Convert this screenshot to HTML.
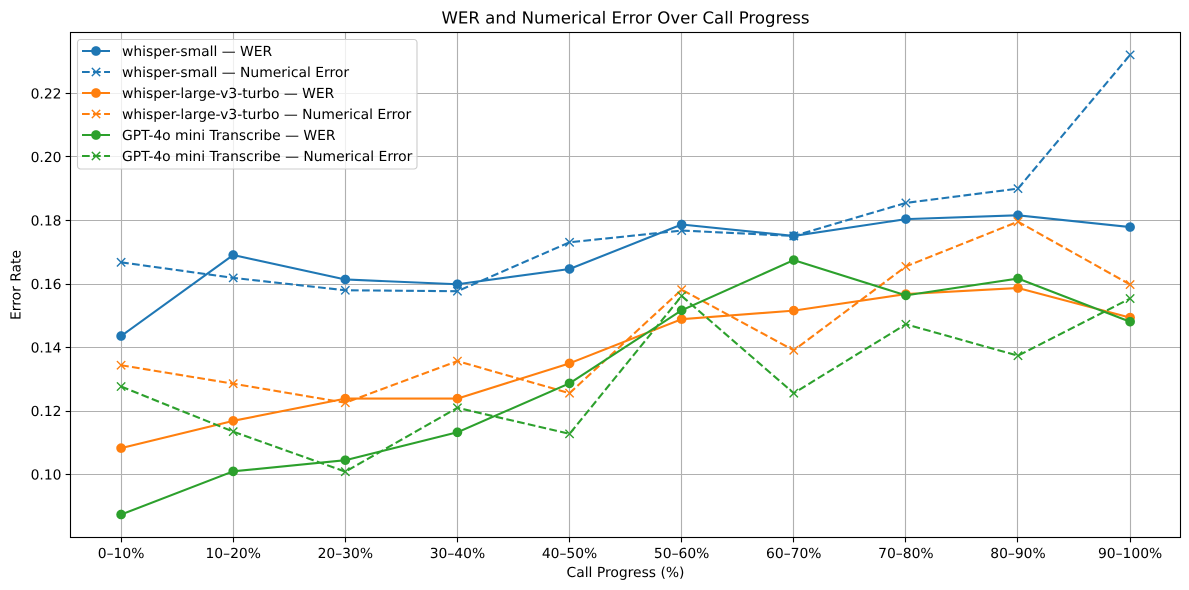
<!DOCTYPE html>
<html lang="en">
<head>
<meta charset="utf-8">
<title>WER and Numerical Error Over Call Progress</title>
<style>
html,body{margin:0;padding:0;background:#fff;}
svg{display:block;}
text{font-family:"DejaVu Sans","Liberation Sans",sans-serif;fill:#000;text-rendering:geometricPrecision;}
</style>
</head>
<body>
<svg id="chart" xmlns="http://www.w3.org/2000/svg" width="1189" height="590" viewBox="0 0 1189 590">
  <rect x="0" y="0" width="1189" height="590" fill="#fff"/>
  <g id="grid"></g>
  <g id="series"></g>
  <g id="axes"></g>
  <g id="legend"></g>
  <text x="625.5" y="23.5" font-size="16.6" text-anchor="middle">WER and Numerical Error Over Call Progress</text>
  <text x="625.5" y="577" font-size="13.89" text-anchor="middle">Call Progress (%)</text>
  <text x="0" y="0" font-size="13.89" text-anchor="middle" transform="translate(20.5 285) rotate(-90)">Error Rate</text>
</svg>
<script>
const categories = ["0–10%","10–20%","20–30%","30–40%","40–50%","50–60%","60–70%","70–80%","80–90%","90–100%"];
const yTicks = [0.10,0.12,0.14,0.16,0.18,0.20,0.22];
const smallWer = [0.1435,0.1690,0.1613,0.1598,0.1646,0.1786,0.1750,0.1803,0.1815,0.1778];
const smallNum = [0.1667,0.1618,0.1579,0.1576,0.1730,0.1767,0.1750,0.1854,0.1899,0.2320];
const turboWer = [0.1082,0.1168,0.1238,0.1238,0.1349,0.1488,0.1515,0.1567,0.1586,0.1493];
const turboNum = [0.1343,0.1285,0.1225,0.1356,0.1255,0.1581,0.1390,0.1654,0.1795,0.1597];
const gptWer = [0.0873,0.1009,0.1044,0.1132,0.1286,0.1516,0.1674,0.1563,0.1616,0.1480];
const gptNum = [0.1276,0.1134,0.1008,0.1209,0.1127,0.1561,0.1255,0.1472,0.1373,0.1553];
const seriesNames = ["whisper-small — WER","whisper-small — Numerical Error","whisper-large-v3-turbo — WER","whisper-large-v3-turbo — Numerical Error","GPT-4o mini Transcribe — WER","GPT-4o mini Transcribe — Numerical Error"];
const seriesValues = [smallWer,smallNum,turboWer,turboNum,gptWer,gptNum];

const NS = "http://www.w3.org/2000/svg";
const L = 70.5, R = 1180.5, T = 32.5, B = 537.5;
const colors = ["#1f77b4","#1f77b4","#ff7f0e","#ff7f0e","#2ca02c","#2ca02c"];
function xScale(i){ return 121.1 + i * (1009 / 9); }
function yScale(v){ return 474.2 - (v - 0.10) * (381.2 / 0.12); }
function snap(p){ return Math.floor(p) + 0.5; }
function mk(tag, attrs, parent){
  const e = document.createElementNS(NS, tag);
  for (const k in attrs) e.setAttribute(k, attrs[k]);
  parent.appendChild(e);
  return e;
}
function slug(s){ return s.toLowerCase().replace(/[^a-z0-9]+/g, '-'); }
function drawMarker(parent, kind, x, y, color){
  let m;
  if (kind === 'o') {
    m = mk('circle', {cx:x, cy:y, r:4.17, fill:color, stroke:color, 'stroke-width':1.39}, parent);
  } else {
    const h = 4.17;
    m = mk('path', {d:`M${x-h} ${y-h}L${x+h} ${y+h}M${x-h} ${y+h}L${x+h} ${y-h}`, fill:'none', stroke:color, 'stroke-width':1.39}, parent);
  }
  return m;
}

const gridG = document.getElementById('grid');
const seriesG = document.getElementById('series');
const axesG = document.getElementById('axes');
const legendG = document.getElementById('legend');

categories.forEach((c, i) => {
  const x = xScale(i);
  const sx = snap(x);
  const g = mk('line', {x1:sx, x2:sx, y1:T, y2:B, stroke:'#b0b0b0', 'stroke-width':1.11}, gridG);
  
  
  const t = mk('line', {x1:sx, x2:sx, y1:B, y2:B + 4.86, stroke:'#000', 'stroke-width':1.11}, axesG);
  
  
  const l = mk('text', {x:x, y:B + 20.5, 'font-size':13.89, 'text-anchor':'middle'}, axesG);
  
  
  l.textContent = c;
});
yTicks.forEach(v => {
  const y = yScale(v);
  const sy = snap(y + 0.4);
  const g = mk('line', {x1:L, x2:R, y1:sy, y2:sy, stroke:'#b0b0b0', 'stroke-width':1.11}, gridG);
  
  
  const t = mk('line', {x1:L - 4.86, x2:L, y1:sy, y2:sy, stroke:'#000', 'stroke-width':1.11}, axesG);
  
  
  const l = mk('text', {x:L - 9, y:y + 5.4, 'font-size':13.89, 'text-anchor':'end'}, axesG);
  
  
  l.textContent = v.toFixed(2);
});
const frame = mk('rect', {x:L, y:T, width:R - L, height:B - T, fill:'none', stroke:'#000', 'stroke-width':1.11}, axesG);



seriesValues.forEach((vals, s) => {
  const dashed = s % 2 === 1;
  const g = mk('g', {}, seriesG);
  
  
  const pts = vals.map((v, i) => xScale(i).toFixed(2) + ',' + yScale(v).toFixed(2)).join(' ');
  const line = mk('polyline', {points:pts, fill:'none', stroke:colors[s], 'stroke-width':2.08, 'stroke-linejoin':'round'}, g);
  
  
  if (dashed) line.setAttribute('stroke-dasharray', '7.7 3.33');
  vals.forEach((v, i) => {
    const m = drawMarker(g, dashed ? 'x' : 'o', xScale(i), yScale(v), colors[s]);
    
    
  });
});

const box = mk('rect', {x:77.5, y:39.5, width:339.5, height:129.5, rx:3, ry:3, fill:'#fff', 'fill-opacity':0.8, stroke:'#ccc', 'stroke-width':1.11}, legendG);


seriesNames.forEach((name, s) => {
  const y = 51 + s * 21;
  const dashed = s % 2 === 1;
  const g = mk('g', {}, legendG);
  
  
  const h = mk('line', {x1:82, x2:110, y1:y, y2:y, stroke:colors[s], 'stroke-width':2.08}, g);
  
  
  if (dashed) h.setAttribute('stroke-dasharray', '7.7 3.33');
  const m = drawMarker(g, dashed ? 'x' : 'o', 96, y, colors[s]);
  
  
  const t = mk('text', {x:122, y:y + 5, 'font-size':13.89}, g);
  
  
  t.textContent = name;
});
</script>
</body>
</html>
